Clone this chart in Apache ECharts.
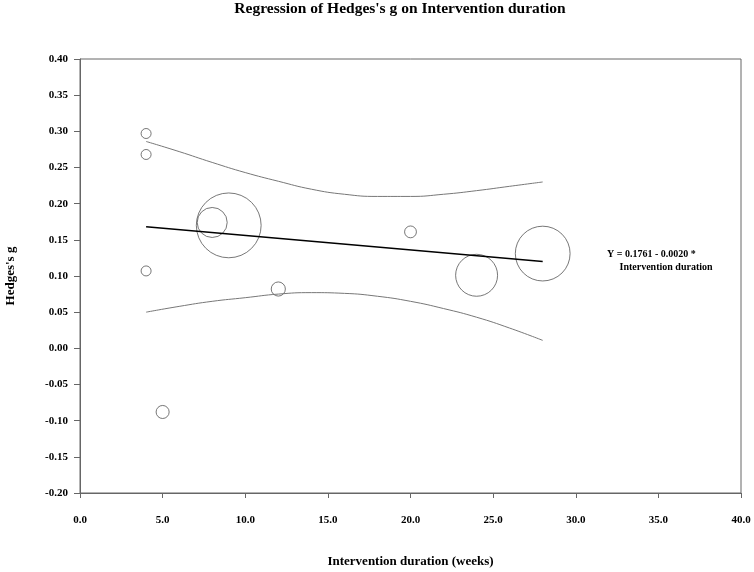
<!DOCTYPE html>
<html>
<head>
<meta charset="utf-8">
<script src="https://cdn.jsdelivr.net/npm/echarts@6/dist/echarts.min.js"></script>
<style>
  html, body { margin: 0; padding: 0; background: #fff; }
  #charts { width: 754px; height: 572px; }
</style>
</head>
<body>
<div id="charts"></div>
<script>
// studies: duration (weeks), Hedges's g, relative weight
var duration = [4, 4, 4, 5, 8, 9, 12, 20, 24, 28];
var hedgesG = [0.297, 0.268, 0.107, -0.088, 0.174, 0.170, 0.082, 0.161, 0.101, 0.131];
var weights = [1.0, 1.0, 1.0, 1.7, 9.0, 42.0, 2.0, 1.4, 17.6, 30.0];

// regression line endpoints
var fitX = [4, 28];
var fitY = [0.1681, 0.1201];

// confidence bands
var bandX = [4, 6, 8, 10, 12, 14, 16, 18, 20, 22, 24, 26, 28];
var upperBand = [0.286, 0.272, 0.257, 0.243, 0.231, 0.220, 0.213, 0.210, 0.210, 0.213, 0.218, 0.224, 0.230];
var lowerBand = [0.050, 0.058, 0.065, 0.070, 0.075, 0.077, 0.076, 0.072, 0.065, 0.055, 0.043, 0.028, 0.011];

var serif = 'Liberation Serif';

function pairs(xs, ys) {
  return xs.map(function (x, i) { return [x, ys[i]]; });
}

var bubbles = duration.map(function (d, i) { return [d, hedgesG[i], weights[i]]; });

var myChart = echarts.init(document.getElementById('charts'));
myChart.setOption({
  animation: false,
  title: {
    text: "Regression of Hedges's g on Intervention duration",
    left: 395,
    textAlign: 'center',
    top: -4,
    textStyle: { fontFamily: serif, fontWeight: 'bold', fontSize: 15.5, color: '#000' }
  },
  grid: {
    left: 80, right: 13, top: 59, bottom: 79,
    outerBoundsMode: 'none',
    containLabel: false,
    show: true, borderColor: '#666', borderWidth: 1, backgroundColor: 'transparent'
  },
  xAxis: {
    type: 'value',
    min: 0, max: 40, interval: 5,
    name: 'Intervention duration (weeks)',
    nameLocation: 'middle',
    nameGap: 62,
    nameTextStyle: { fontFamily: serif, fontWeight: 'bold', fontSize: 13, color: '#000' },
    axisLine: { onZero: false, lineStyle: { color: '#666' } },
    axisTick: { inside: false, length: 5, lineStyle: { color: '#666' } },
    splitLine: { show: false },
    axisLabel: {
      margin: 22,
      fontFamily: serif, fontWeight: 'bold', fontSize: 11, color: '#000',
      formatter: function (v) { return v.toFixed(1); }
    }
  },
  yAxis: {
    type: 'value',
    min: -0.2, max: 0.4, interval: 0.05,
    name: "Hedges's g",
    nameLocation: 'middle',
    nameGap: 63,
    nameRotate: 90,
    nameTextStyle: { fontFamily: serif, fontWeight: 'bold', fontSize: 13, color: '#000' },
    axisLine: { onZero: false, lineStyle: { color: '#666' } },
    axisTick: { inside: false, length: 6, lineStyle: { color: '#666' } },
    splitLine: { show: false },
    axisLabel: {
      margin: 12,
      fontFamily: serif, fontWeight: 'bold', fontSize: 11, color: '#000',
      formatter: function (v) { return v.toFixed(2); }
    }
  },
  graphic: [
    {
      type: 'text', left: 607, top: 248,
      style: {
        text: 'Y = 0.1761 - 0.0020 *\n     Intervention duration',
        font: 'bold 10px "Liberation Serif"', fill: '#000', lineHeight: 13
      }
    }
  ],
  series: [
    {
      type: 'line', data: pairs(bandX, upperBand), smooth: true,
      showSymbol: false, silent: true,
      lineStyle: { color: '#777', width: 1 }
    },
    {
      type: 'line', data: pairs(bandX, lowerBand), smooth: true,
      showSymbol: false, silent: true,
      lineStyle: { color: '#777', width: 1 }
    },
    {
      type: 'line', data: pairs(fitX, fitY),
      showSymbol: false, silent: true,
      lineStyle: { color: '#000', width: 1.5 }
    },
    {
      type: 'scatter', data: bubbles,
      symbol: 'circle',
      symbolSize: function (v) { return 10 * Math.sqrt(v[2]); },
      itemStyle: { color: 'rgba(0,0,0,0)', borderColor: '#555', borderWidth: 1 }
    }
  ]
});
</script>
</body>
</html>
